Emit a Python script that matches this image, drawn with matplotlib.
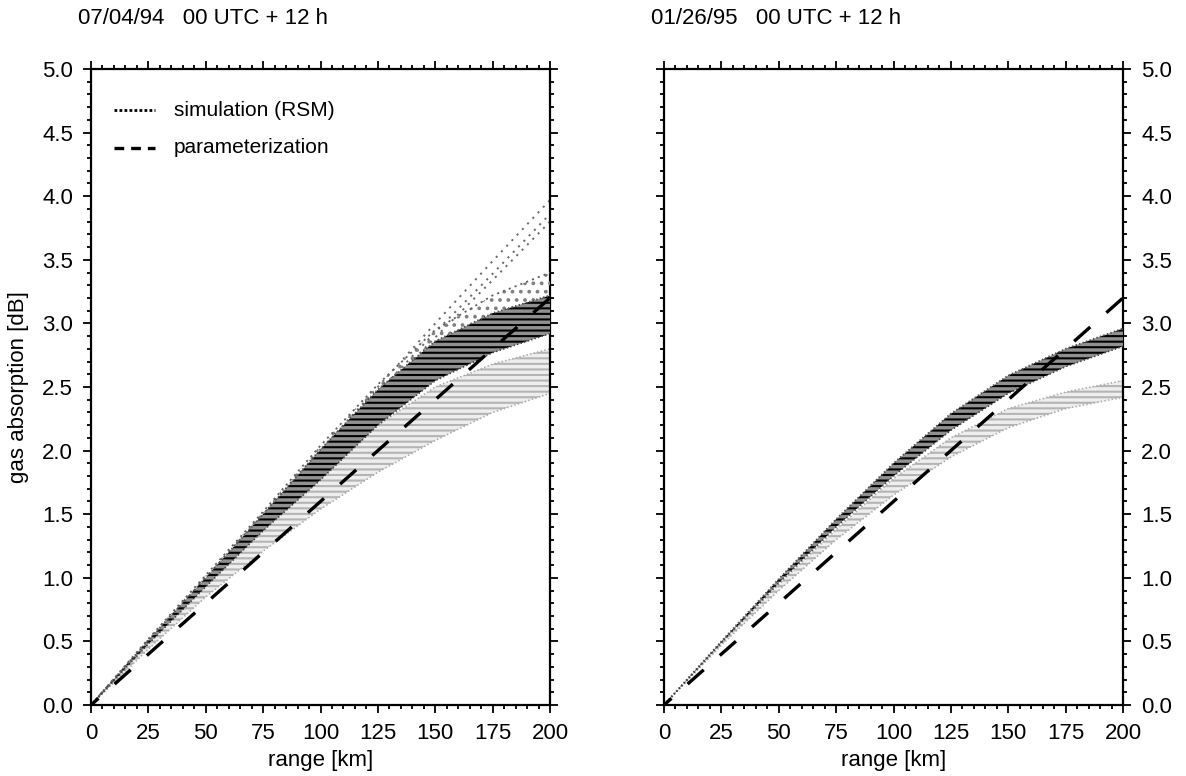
import numpy as np
import matplotlib.pyplot as plt
from matplotlib.ticker import MultipleLocator

plt.rcParams['font.family'] = ['Liberation Sans', 'DejaVu Sans']
plt.rcParams['hatch.linewidth'] = 1.5
plt.rcParams['lines.scale_dashes'] = False

# range grid [km]
rng_km = [0, 25, 50, 75, 100, 125, 150, 175, 200]

# parameterization (same in both panels)
param_km = [0, 200]
param_db = [0.0, 3.2]

# 07/04/94 simulation envelopes [dB]
jul_scatter_hi = [0, 0.52, 1.02, 1.52, 2.04, 2.52, 2.95, 3.22, 3.40]
jul_dark_hi = [0, 0.51, 1.00, 1.50, 2.01, 2.48, 2.86, 3.08, 3.22]
jul_dark_lo = [0, 0.48, 0.93, 1.37, 1.77, 2.20, 2.55, 2.77, 2.92]
jul_light_hi = [0, 0.49, 0.95, 1.40, 1.80, 2.20, 2.50, 2.68, 2.80]
jul_light_lo = [0, 0.44, 0.85, 1.21, 1.54, 1.83, 2.08, 2.30, 2.45]
jul_out_1 = [0, 0.50, 1.00, 1.50, 2.00, 2.50, 3.00, 3.49, 3.97]
jul_out_2 = [0, 0.50, 1.00, 1.49, 1.98, 2.46, 2.93, 3.39, 3.86]
jul_out_3 = [0, 0.50, 0.99, 1.48, 1.96, 2.43, 2.89, 3.34, 3.80]

# 01/26/95 simulation envelopes [dB]
jan_dark_hi = [0, 0.50, 0.99, 1.46, 1.90, 2.29, 2.59, 2.80, 2.96]
jan_dark_lo = [0, 0.49, 0.96, 1.40, 1.80, 2.16, 2.45, 2.66, 2.82]
jan_light_hi = [0, 0.49, 0.95, 1.38, 1.78, 2.10, 2.33, 2.46, 2.55]
jan_light_lo = [0, 0.47, 0.90, 1.30, 1.65, 1.95, 2.18, 2.33, 2.42]

titles = ['07/04/94   00 UTC + 12 h', '01/26/95   00 UTC + 12 h']

fig = plt.figure(figsize=(11.86, 7.76), dpi=100)
ax1 = fig.add_axes([91/1186, 71/776, 459/1186, 636/776])
ax2 = fig.add_axes([664/1186, 71/776, 459/1186, 636/776])


def draw_band(ax, lo, hi, light_lo, light_hi):
    ax.fill_between(rng_km, light_lo, light_hi, facecolor='#eeeeee',
                    edgecolor='#b4b4b4', hatch='---', lw=0, zorder=1)
    ax.plot(rng_km, light_lo, ls=':', color='#a8a8a8', lw=1.2, zorder=2)
    ax.plot(rng_km, light_hi, ls=':', color='#a8a8a8', lw=1.2, zorder=2)
    ax.fill_between(rng_km, lo, hi, facecolor='#909090',
                    edgecolor='black', hatch='---', lw=0, zorder=3)
    ax.plot(rng_km, hi, ls=':', color='#505050', lw=1.4, zorder=4)
    ax.plot(rng_km, lo, ls=':', color='#404040', lw=1.2, zorder=4)


draw_band(ax1, jul_dark_lo, jul_dark_hi, jul_light_lo, jul_light_hi)
ax1.fill_between(rng_km, jul_dark_hi, jul_scatter_hi, facecolor='none',
                 edgecolor='#808080', hatch='..', lw=0, zorder=3)
ax1.plot(rng_km, jul_scatter_hi, ls=(0, (1.5, 3)), color='#606060', lw=1.3,
         zorder=4)
for c in (jul_out_1, jul_out_2, jul_out_3):
    ax1.plot(rng_km, c, ls=(0, (1.5, 4)), color='#6a6a6a', lw=1.4, zorder=2)
draw_band(ax2, jan_dark_lo, jan_dark_hi, jan_light_lo, jan_light_hi)

for ax, t in zip((ax1, ax2), titles):
    ax.plot(param_km, param_db, color='black', lw=2.4,
            ls=(8.3, (15.5, 15.5)), zorder=6, dash_capstyle='butt')
    ax.set_xlim(0, 200)
    ax.set_ylim(0, 5)
    ax.xaxis.set_major_locator(MultipleLocator(25))
    ax.xaxis.set_minor_locator(MultipleLocator(5))
    ax.yaxis.set_major_locator(MultipleLocator(0.5))
    ax.yaxis.set_minor_locator(MultipleLocator(0.1))
    ax.yaxis.set_major_formatter(plt.FormatStrFormatter('%.1f'))
    ax.tick_params(which='both', direction='out', top=True, right=True,
                   width=1.3, labelsize=16, pad=7)
    ax.tick_params(which='major', length=6)
    ax.tick_params(which='minor', length=3)
    for s in ax.spines.values():
        s.set_linewidth(1.6)
    ax.set_xlabel('range [km]', fontsize=16)
    ax.xaxis.set_label_coords(0.5, -0.071)
    fig.text(ax.get_position().x0 - 13/1186, 1 - 18/776, t, fontsize=16,
             ha='left', va='center')

ax1.set_ylabel('gas absorption [dB]', fontsize=16)
ax1.yaxis.set_label_coords(-0.135, 0.5)
ax2.tick_params(labelleft=False, labelright=True)

# legend drawn by hand in the left panel
ax1.plot([0.05, 0.14], [0.935, 0.935], transform=ax1.transAxes, color='black',
         lw=2, ls=(0, (2, 1.6)))
ax1.text(0.18, 0.935, 'simulation (RSM)', transform=ax1.transAxes,
         fontsize=15, va='center')
ax1.plot([0.05, 0.14], [0.876, 0.876], transform=ax1.transAxes, color='black',
         lw=2.4, ls=(0, (7, 5)))
ax1.text(0.18, 0.876, 'parameterization', transform=ax1.transAxes,
         fontsize=15, va='center')

fig.savefig('out.png', dpi=100)
